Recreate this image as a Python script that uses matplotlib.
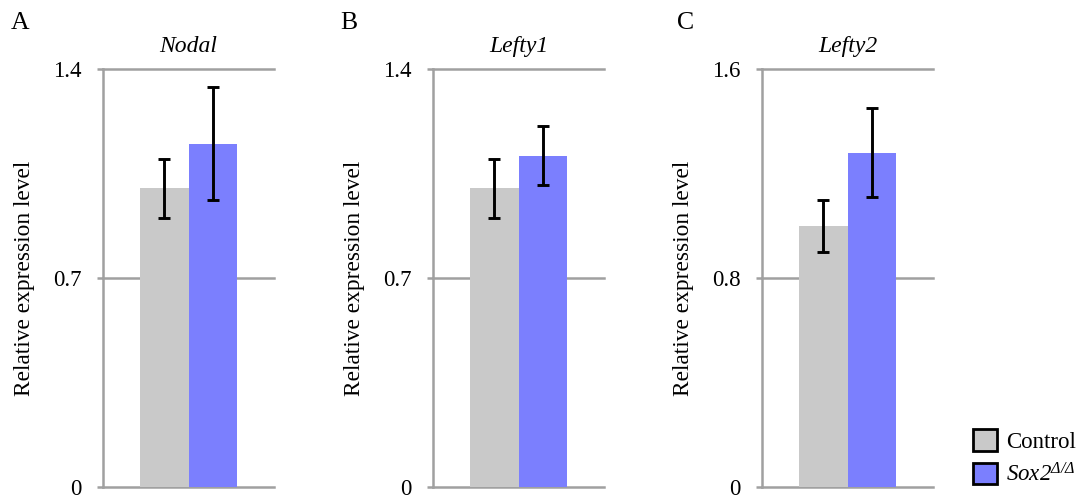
import matplotlib
matplotlib.use("Agg")
import matplotlib.pyplot as plt
from matplotlib.patches import Patch

plt.rcParams['font.family'] = ['Liberation Serif', 'DejaVu Serif']
plt.rcParams['mathtext.fontset'] = 'custom'
plt.rcParams['mathtext.rm'] = 'Liberation Serif:italic'
plt.rcParams['mathtext.it'] = 'Liberation Serif:italic'

# Relative expression (mean and error) per gene
genes = ["Nodal", "Lefty1", "Lefty2"]
panel_letters = ["A", "B", "C"]
control_mean = [1.00, 1.00, 1.00]
control_err = [0.10, 0.10, 0.10]
mutant_mean = [1.15, 1.11, 1.28]
mutant_err = [0.19, 0.10, 0.17]
y_max = [1.4, 1.4, 1.6]
y_ticks = [[0, 0.7, 1.4], [0, 0.7, 1.4], [0, 0.8, 1.6]]
y_ticklabels = [["0", "0.7", "1.4"], ["0", "0.7", "1.4"], ["0", "0.8", "1.6"]]
series_labels = ["Control", r"Sox2$^{\mathit{\Delta/\Delta}}$"]

W, H = 1080, 503
fig = plt.figure(figsize=(W / 100, H / 100), dpi=100)

grey_bar = "#c9c9c9"
blue_bar = "#7b7ffe"
axis_grey = "#a0a0a0"

ax_left_px = [103, 433, 762]
letter_x_px = [11, 340, 677]
ax_w_px = 171
top_px, bot_px = 69, 487
bar_w = 0.284

for i, gene in enumerate(genes):
    ax = fig.add_axes([ax_left_px[i] / W, (H - bot_px) / H,
                       ax_w_px / W, (bot_px - top_px) / H])
    ax.bar(-bar_w / 2, control_mean[i], width=bar_w, color=grey_bar, zorder=2)
    ax.bar(bar_w / 2, mutant_mean[i], width=bar_w, color=blue_bar, zorder=2)
    ax.errorbar([-bar_w / 2, bar_w / 2], [control_mean[i], mutant_mean[i]],
                yerr=[control_err[i], mutant_err[i]], fmt='none',
                ecolor='black', elinewidth=2.1, capsize=4.0, capthick=2.1,
                zorder=3)
    ax.set_xlim(-0.5, 0.5)
    ax.set_ylim(0, y_max[i])
    ax.set_yticks(y_ticks[i])
    ax.set_yticklabels(y_ticklabels[i], fontsize=16.5)
    ax.set_xticks([])
    for s in ["top", "right", "bottom"]:
        ax.spines[s].set_visible(False)
    ax.spines["left"].set_color(axis_grey)
    ax.spines["left"].set_linewidth(1.8)
    ax.yaxis.grid(True, color=axis_grey, linewidth=1.8, zorder=0)
    ax.set_axisbelow(True)
    ax.tick_params(axis='y', length=4.5, width=1.8, color=axis_grey,
                   pad=11, labelcolor='black')
    for t in ax.get_ygridlines():
        t.set_clip_on(False)
    ax.set_ylabel("Relative expression level", fontsize=16.8, labelpad=13)
    ax.set_title(gene, fontsize=17, style='italic', pad=12)
    fig.text(letter_x_px[i] / W, (H - 29) / H, panel_letters[i],
             fontsize=18.5, ha='left', va='baseline')

handles = [Patch(facecolor=grey_bar, edgecolor='black', linewidth=2.0),
           Patch(facecolor=blue_bar, edgecolor='black', linewidth=2.0)]
leg = fig.legend(handles, series_labels, loc='lower left',
                 bbox_to_anchor=(973 / W, 17 / H), frameon=False,
                 fontsize=16.5, handlelength=1.05, handleheight=1.05,
                 handletextpad=0.4, labelspacing=0.42, borderaxespad=0,
                 borderpad=0)
leg.get_texts()[1].set_style('italic')

fig.savefig("out.png", dpi=100)
